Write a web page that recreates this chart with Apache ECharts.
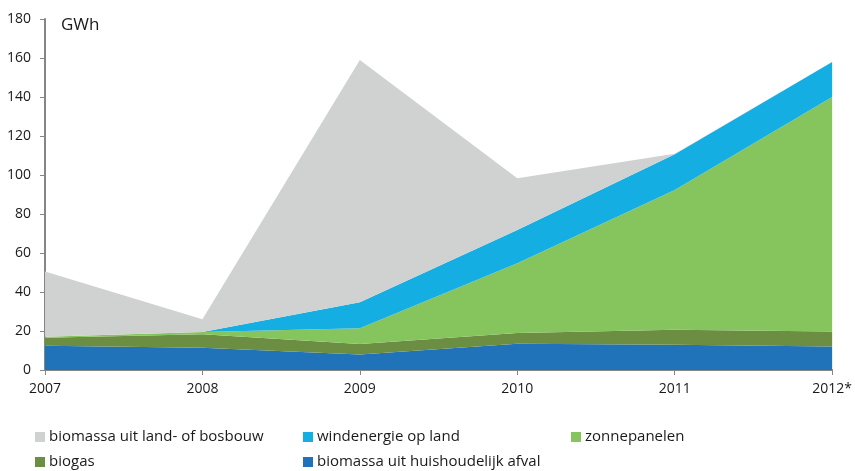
<!DOCTYPE html>
<html>
<head>
<meta charset="utf-8">
<script src="https://cdn.jsdelivr.net/npm/echarts@6/dist/echarts.min.js"></script>
<style>html,body{margin:0;padding:0;background:#fff}#c{width:855px;height:471px}</style>
</head>
<body>
<div id="c"></div>
<script>
const categories = ['2007', '2008', '2009', '2010', '2011', '2012*'];
const afval = [12.5, 11.4, 8.0, 13.5, 13.0, 12.0];
const biogas = [4.1, 6.9, 5.3, 5.5, 7.7, 7.8];
const zon = [0.4, 1.2, 8.1, 35.7, 71.6, 120.2];
const wind = [0, 0, 13.3, 17.1, 18.3, 18.0];
const landbos = [33.5, 6.5, 124.3, 26.5, 0.3, 0];
const yTicks = [0, 20, 40, 60, 80, 100, 120, 140, 160, 180];

const names = ['biomassa uit land- of bosbouw', 'windenergie op land', 'zonnepanelen', 'biogas', 'biomassa uit huishoudelijk afval'];
const colors = {
  'biomassa uit land- of bosbouw': '#D0D2D1',
  'windenergie op land': '#15AEE2',
  'zonnepanelen': '#86C55D',
  'biogas': '#6B8E43',
  'biomassa uit huishoudelijk afval': '#2073B9'
};
const FONT = '"Open Sans", sans-serif';

function areaSeries(name, data) {
  return {
    name: name, type: 'line', stack: 'total', data: data,
    symbol: 'none', lineStyle: { width: 0 },
    areaStyle: { color: colors[name], opacity: 1 },
    itemStyle: { color: colors[name] }
  };
}

const legendPos = [
  [names[0], 35, 437], [names[1], 303, 437], [names[2], 571, 437],
  [names[3], 35, 462], [names[4], 303, 462]
];

const chart = echarts.init(document.getElementById('c'));
chart.setOption({
  animation: false,
  backgroundColor: '#fff',
  grid: { left: 45, right: 21, top: 19, bottom: 101 },
  legend: legendPos.map(([n, x, cy]) => ({
    data: [n], left: x, top: cy - 10, height: 20, itemWidth: 10, itemHeight: 10, itemGap: 0,
    icon: 'rect',
    textStyle: { fontFamily: FONT, fontSize: 15, color: '#1a1a1a', lineHeight: 20, padding: [0, 0, 0, -1] },
    padding: 0
  })),
  graphic: [{ type: 'text', x: 61, y: 25, style: { text: 'GWh', font: '17px ' + FONT, fill: '#1a1a1a', verticalAlign: 'middle' } }],
  xAxis: {
    type: 'category', data: categories, boundaryGap: false,
    axisLine: { lineStyle: { color: '#868686', width: 2 } },
    axisTick: { lineStyle: { color: '#868686' }, length: 5 },
    axisLabel: { color: '#1a1a1a', fontFamily: FONT, fontSize: 14, margin: 12 }
  },
  yAxis: {
    type: 'value', min: yTicks[0], max: yTicks[yTicks.length - 1], interval: 20,
    axisLine: { show: true, lineStyle: { color: '#868686', width: 2 } },
    axisTick: { show: true, lineStyle: { color: '#868686' }, length: 5 },
    splitLine: { show: false },
    axisLabel: { color: '#1a1a1a', fontFamily: FONT, fontSize: 14, margin: 14 }
  },
  series: [
    areaSeries(names[4], afval),
    areaSeries(names[3], biogas),
    areaSeries(names[2], zon),
    areaSeries(names[1], wind),
    areaSeries(names[0], landbos)
  ]
});
</script>
</body>
</html>
